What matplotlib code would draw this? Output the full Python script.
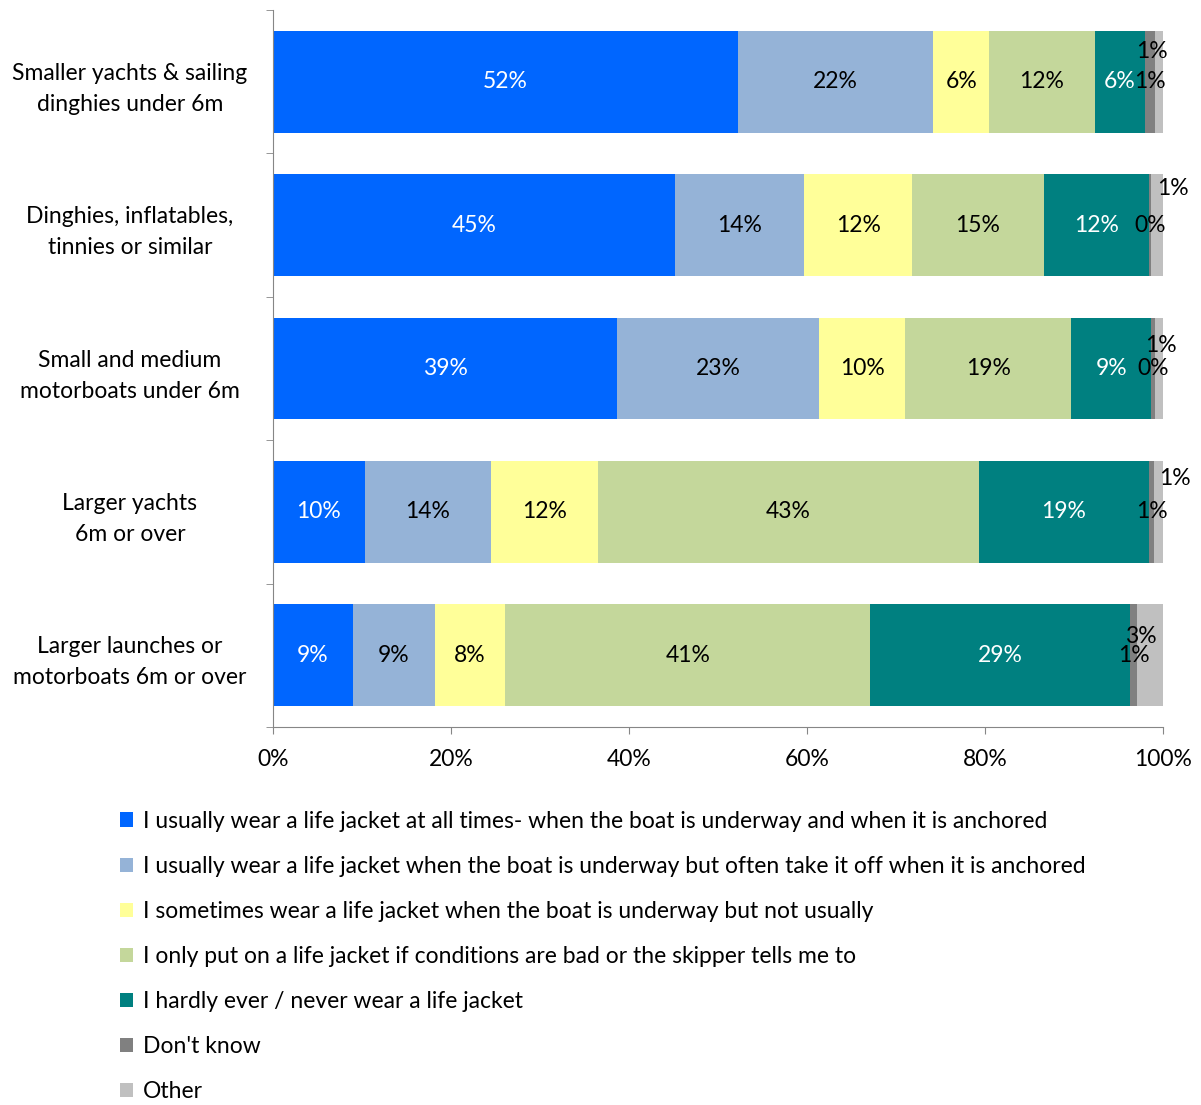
import matplotlib.pyplot as plt
import matplotlib.transforms as mtransforms
import numpy as np

plt.rcParams['font.family'] = ['Lato', 'DejaVu Sans']

# boat types, top to bottom
categories = ['Smaller yachts & sailing\ndinghies under 6m',
              'Dinghies, inflatables,\ntinnies or similar',
              'Small and medium\nmotorboats under 6m',
              'Larger yachts\n6m or over',
              'Larger launches or\nmotorboats 6m or over']

series_names = ['I usually wear a life jacket at all times- when the boat is underway and when it is anchored',
                'I usually wear a life jacket when the boat is underway but often take it off when it is anchored',
                'I sometimes wear a life jacket when the boat is underway but not usually',
                'I only put on a life jacket if conditions are bad or the skipper tells me to',
                'I hardly ever / never wear a life jacket',
                "Don't know",
                'Other']

# percentages per series (one value per boat type)
always = [52.2, 45.2, 38.7, 10.3, 9.0]
underway = [22.0, 14.5, 22.7, 14.2, 9.2]
sometimes = [6.3, 12.1, 9.6, 12.0, 7.9]
only_bad = [11.8, 14.8, 18.7, 42.8, 41.0]
never = [5.7, 11.8, 9.0, 19.1, 29.2]
dont_know = [1.1, 0.3, 0.4, 0.6, 0.8]
other = [0.9, 1.3, 0.9, 1.0, 2.9]

series = [always, underway, sometimes, only_bad, never, dont_know, other]
colors = ['#0066FF', '#95B3D7', '#FFFF99', '#C4D79B', '#008080', '#808080', '#C0C0C0']
text_colors = ['white', 'black', 'black', 'black', 'white', 'black', 'black']

# nudges (pixels) for the crowded "Other" labels
other_dx = [-7, 16, 2, 16, -9]
other_dy = [30, 37, 23, 33, 19]

fs = 16.5

fig = plt.figure(figsize=(12.01, 11.05), dpi=100)
ax = fig.add_axes([0.2273, 0.3421, 0.7411, 0.6488])

y = np.arange(len(categories))
left = np.zeros(len(categories))
handles = []
for i, vals in enumerate(series):
    vals = np.array(vals)
    bars = ax.barh(y, vals, left=left, height=0.71, color=colors[i], label=series_names[i])
    handles.append(bars)
    for j in range(len(categories)):
        cx = left[j] + vals[j] / 2
        txt = f'{vals[j]:.0f}%'
        if i == 6:
            ax.annotate(txt, (cx, y[j]), xytext=(other_dx[j], other_dy[j]),
                        textcoords='offset pixels', ha='center', va='center',
                        fontsize=fs, color=text_colors[i])
        else:
            ax.text(cx, y[j], txt, ha='center', va='center', fontsize=fs,
                    color=text_colors[i])
    left = left + vals

ax.set_xlim(0, 100)
ax.set_ylim(4.5, -0.5)
ax.set_xticks(np.arange(0, 101, 20))
ax.set_xticklabels([f'{v}%' for v in range(0, 101, 20)])
ax.set_yticks(y)
ax.set_yticklabels(categories)
shift_up = mtransforms.ScaledTranslation(0, 5 / 72, fig.dpi_scale_trans)
for lab in ax.get_yticklabels():
    lab.set_horizontalalignment('center')
    lab.set_multialignment('center')
    lab.set_linespacing(1.6)
    lab.set_transform(lab.get_transform() + shift_up)
ax.set_yticks(np.arange(-0.5, 5, 1), minor=True)
ax.tick_params(axis='y', which='major', length=0, pad=103, labelsize=fs)
ax.tick_params(axis='y', which='minor', length=5, color='#868686', direction='out')
ax.tick_params(axis='x', which='major', length=5, color='#868686', direction='out',
               labelsize=fs, pad=11)
for s in ['top', 'right']:
    ax.spines[s].set_visible(False)
for s in ['left', 'bottom']:
    ax.spines[s].set_color('#868686')

fig.legend(handles=handles, loc='upper left', bbox_to_anchor=(0.092, 0.2745),
           frameon=False, fontsize=fs, handlelength=0.6, handleheight=0.6,
           handletextpad=0.4, labelspacing=1.05, borderaxespad=0)

fig.savefig('out.png', dpi=100)
